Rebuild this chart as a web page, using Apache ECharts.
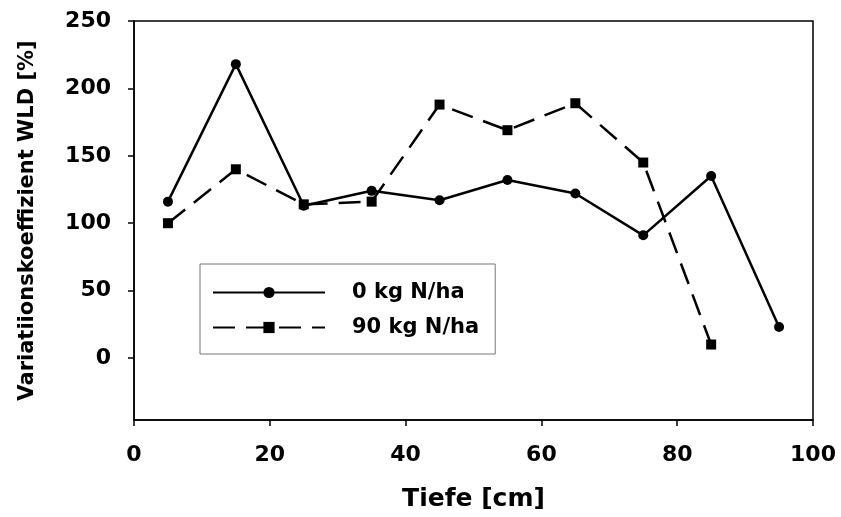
<!DOCTYPE html>
<html>
<head>
<meta charset="utf-8">
<script src="https://cdn.jsdelivr.net/npm/echarts@6/dist/echarts.min.js"></script>
<style>
  html, body { margin: 0; padding: 0; background: #fff; }
  #main { width: 841px; height: 517px; }
</style>
</head>
<body>
<div id="main"></div>
<script>
// Tiefe [cm]
const depth0 = [5, 15, 25, 35, 45, 55, 65, 75, 85, 95]
const depth90 = [5, 15, 25, 35, 45, 55, 65, 75, 85]
// Variationskoeffizient [%]
const cv0 = [116, 218, 113, 124, 117, 132, 122, 91, 135, 23]
const cv90 = [100, 140, 114, 116, 188, 169, 189, 145, 10]
const yTicks = [0, 50, 100, 150, 200, 250]
const seriesNames = ['0 kg N/ha', '90 kg N/ha']

const font = 'DejaVu Sans'

let myChart = echarts.init(document.getElementById('main'))
let option = {
  animation: false,
  backgroundColor: '#fff',
  grid: {
    left: 134,
    right: 28,
    top: 21,
    bottom: 88,
    show: true,
    borderColor: '#000',
    borderWidth: 1.5
  },
  legend: {
    orient: 'vertical',
    left: 200,
    top: 264,
    padding: [18, 16, 16, 12],
    itemWidth: 112,
    itemHeight: 14,
    itemGap: 14,
    borderColor: '#777',
    borderWidth: 1,
    data: seriesNames,
    textStyle: {
      color: '#000',
      fontFamily: font,
      fontWeight: 'bold',
      fontSize: 21,
      padding: [0, 0, 0, 22]
    }
  },
  xAxis: {
    type: 'value',
    min: 0,
    max: 100,
    interval: 20,
    name: 'Tiefe [cm]',
    nameLocation: 'middle',
    nameGap: 67,
    nameTextStyle: { color: '#000', fontFamily: font, fontWeight: 'bold', fontSize: 25 },
    axisLine: { onZero: false, lineStyle: { color: '#000', width: 1.5 } },
    axisTick: { length: 6, lineStyle: { color: '#000', width: 1.5 } },
    axisLabel: { color: '#000', fontFamily: font, fontWeight: 'bold', fontSize: 22, margin: 24 },
    splitLine: { show: false }
  },
  yAxis: {
    type: 'value',
    min: -46,
    max: 250,
    name: 'Variatiionskoeffizient WLD [%]',
    nameLocation: 'middle',
    nameRotate: 90,
    nameGap: 96,
    nameTextStyle: { color: '#000', fontFamily: font, fontWeight: 'bold', fontSize: 21 },
    axisLine: { show: true, onZero: false, lineStyle: { color: '#000', width: 1.5 } },
    axisTick: { show: true, length: 6, customValues: yTicks, lineStyle: { color: '#000', width: 1.5 } },
    axisLabel: { color: '#000', fontFamily: font, fontWeight: 'bold', fontSize: 22, margin: 23, customValues: yTicks },
    splitLine: { show: false }
  },
  series: [
    {
      name: seriesNames[0],
      type: 'line',
      data: depth0.map((d, i) => [d, cv0[i]]),
      symbol: 'circle',
      symbolSize: 10,
      itemStyle: { color: '#000' },
      lineStyle: { color: '#000', width: 2.5 }
    },
    {
      name: seriesNames[1],
      type: 'line',
      data: depth90.map((d, i) => [d, cv90[i]]),
      symbol: 'rect',
      symbolSize: 10,
      itemStyle: { color: '#000' },
      lineStyle: { color: '#000', width: 2.5, type: [22, 11] }
    }
  ]
}
myChart.setOption(option)
</script>
</body>
</html>
